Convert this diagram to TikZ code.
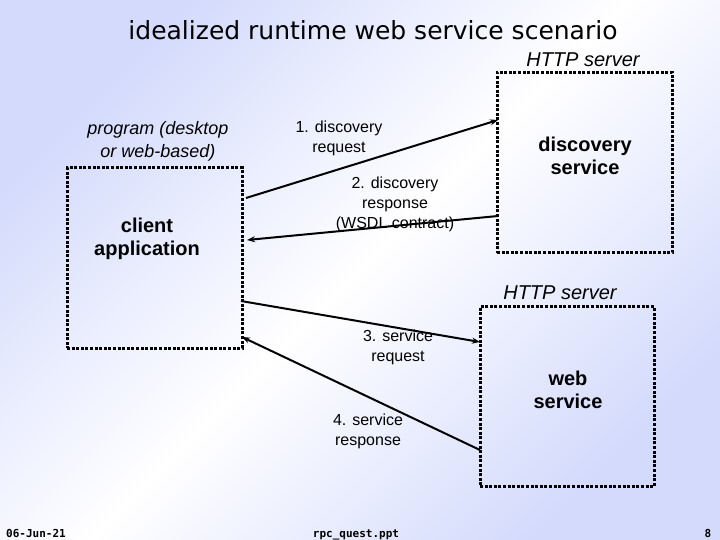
\documentclass[tikz,border=0pt]{standalone}
\usepackage{fontspec}
\setmainfont{Liberation Sans}
\newfontfamily\titlefont{DejaVu Sans}
\newfontfamily\footfont{DejaVu Sans Mono}
\usetikzlibrary{arrows.meta}
\definecolor{lav}{RGB}{211,218,252}
\tikzset{
	box/.style={draw, line width=3pt, dash pattern=on 3pt off 1.6pt, minimum width=#1, minimum height=180pt, inner sep=0pt},
	lbl/.style={inner sep=0pt, align=center, font=\fontsize{16}{20}\selectfont},
	blbl/.style={inner sep=0pt, align=center, font=\fontsize{20}{23}\selectfont\bfseries},
	ilbl/.style={inner sep=0pt, align=center, font=\fontsize{20}{23}\selectfont\itshape},
	foot/.style={inner sep=0pt, anchor=base, font=\fontsize{11}{12}\selectfont\footfont\bfseries},
	msg/.style={line width=2pt, -{Stealth[length=8pt,width=6pt]}}
}
\begin{document}
\begin{tikzpicture}[x=1pt,y=-1pt]
	\shade[top color=lav, bottom color=lav, middle color=white, shading angle=45] (0,0) rectangle (720,540);
	\node at (373,30) (title) {\titlefont\fontsize{25}{29}\selectfont idealized runtime web service scenario};
	% boxes
	\node[box=175pt] at (154.5,258) (client) {};
	\node[box=175pt] at (584.5,162.5) (disc) {};
	\node[box=174pt] at (567,396.5) (web) {};
	\node[ilbl] at (583,60) (http1) {HTTP server};
	\node[ilbl] at (560,293) (http2) {HTTP server};
	\node[inner sep=0pt, align=center, font=\fontsize{18}{23}\selectfont\itshape] at (158,141) (prog) {program (desktop\\or web-based)};
	\node[blbl] at (147,239) (clientlbl) {client\\application};
	\node[blbl] at (585,156) (disclbl) {discovery\\service};
	\node[blbl] at (568,390) (weblbl) {web\\service};
	% message ends
	\coordinate (c1) at (246,198);
	\coordinate (c2) at (247,240);
	\coordinate (c3) at (241,301);
	\coordinate (c4) at (242,337);
	\coordinate (d1) at (498,120);
	\coordinate (d2) at (498,216);
	\coordinate (w3) at (480,342);
	\coordinate (w4) at (480,450);
	\draw[msg] (c1) -- (d1);
	\draw[msg] (d2) -- (c2);
	\draw[msg] (c3) -- (w3);
	\draw[msg] (w4) -- (c4);
	\node[lbl] at (339,138) (m1) {1. discovery\\request};
	\node[lbl] at (395,204) (m2) {2. discovery\\response\\(WSDL contract)};
	\node[lbl] at (398,347) (m3) {3. service\\request};
	\node[lbl] at (368,431) (m4) {4. service\\response};
	% footer
	\node[foot] at (36,537) (date) {06-Jun-21};
	\node[foot] at (356,537) (file) {rpc\_quest.ppt};
	\node[foot] at (708,537) (page) {8};
\end{tikzpicture}
\end{document}
